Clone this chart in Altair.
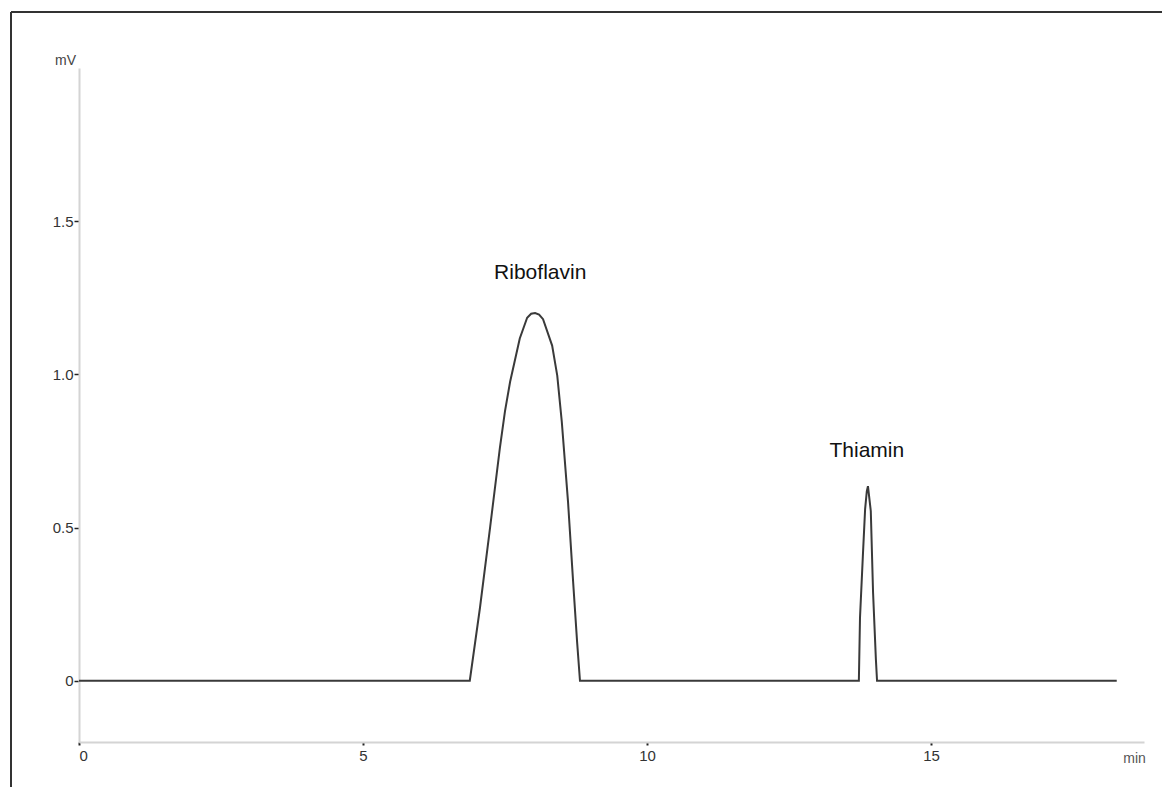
import altair as alt
import pandas as pd

# Chromatogram trace (time in min, signal in mV)
time_min = [0.0, 6.88, 7.06, 7.24, 7.41, 7.50, 7.59, 7.76, 7.89, 7.96, 8.03, 8.10, 8.17, 8.33, 8.42, 8.50, 8.61, 8.70, 8.77, 8.82,
            13.73, 13.75, 13.80, 13.84, 13.87, 13.89, 13.94, 13.98, 14.03, 14.05, 18.27]
signal_mv = [0.0, 0.0, 0.239, 0.504, 0.760, 0.880, 0.976, 1.117, 1.185, 1.198, 1.200, 1.195, 1.180, 1.094, 0.996, 0.845, 0.583, 0.321, 0.125, 0.0,
             0.0, 0.206, 0.406, 0.560, 0.619, 0.635, 0.554, 0.288, 0.069, 0.0, 0.0]

peak_names = ["Riboflavin", "Thiamin"]
peak_label_x = [8.12, 13.87]
peak_label_y = [1.33, 0.75]

x_ticks = [0, 5, 10, 15]
y_ticks = [0, 0.5, 1.0, 1.5]

trace = pd.DataFrame({"t": time_min, "mv": signal_mv})
labels = pd.DataFrame({"name": peak_names, "t": peak_label_x, "mv": peak_label_y})

FONT = "Liberation Sans"

x_scale = alt.Scale(domain=[0, 18.75], nice=False, zero=False)
y_scale = alt.Scale(domain=[-0.2, 2.0], nice=False, zero=False)

x_axis = alt.Axis(values=x_ticks, format="d", grid=False, domainColor="#d4d4d4", domainWidth=2,
                  tickColor="#222", tickSize=3, tickWidth=2, labelFont=FONT, labelFontSize=15,
                  labelColor="#333", labelPadding=3,
                  title="min", titleFont=FONT, titleFontSize=14, titleFontWeight="normal",
                  titleColor="#555", titleX=1055, titleY=16, titleAlign="center", titleBaseline="middle")
y_axis = alt.Axis(values=y_ticks, labelExpr="datum.value == 0 ? '0' : format(datum.value, '.1f')",
                  grid=False, domainColor="#d4d4d4", domainWidth=2,
                  tickColor="#222", tickSize=5, tickWidth=1.5, labelFont=FONT, labelFontSize=15,
                  labelColor="#333", labelPadding=1,
                  title="mV", titleFont=FONT, titleFontSize=14, titleFontWeight="normal",
                  titleColor="#444", titleAngle=0, titleX=-14, titleY=-8, titleAlign="center",
                  titleBaseline="middle")

line = alt.Chart(trace).mark_line(color="#3a3a3a", strokeWidth=2, clip=False).encode(
    x=alt.X("t:Q", scale=x_scale, axis=x_axis),
    y=alt.Y("mv:Q", scale=y_scale, axis=y_axis),
    order="t:Q",
)

text = alt.Chart(labels).mark_text(font=FONT, fontSize=21, color="#111", baseline="middle").encode(
    x=alt.X("t:Q", scale=x_scale),
    y=alt.Y("mv:Q", scale=y_scale),
    text="name:N",
)

frame_left = alt.Chart(pd.DataFrame({"a": [0]})).mark_rule(color="#333", strokeWidth=2, clip=False).encode(
    x=alt.value(-68), y=alt.value(-56), y2=alt.value(740)
)
frame_top = alt.Chart(pd.DataFrame({"a": [0]})).mark_rule(color="#333", strokeWidth=2, clip=False).encode(
    x=alt.value(-68), x2=alt.value(1100), y=alt.value(-56)
)

chart = alt.layer(frame_left, frame_top, line, text).properties(
    width=1065, height=674,
    autosize=alt.AutoSizeParams(type="none"),
    padding={"left": 79, "top": 68, "right": 18, "bottom": 45},
).configure(background="white", view=alt.ViewConfig(stroke=None))

chart.save("out.html", embed_options={"renderer": "svg", "actions": False})
